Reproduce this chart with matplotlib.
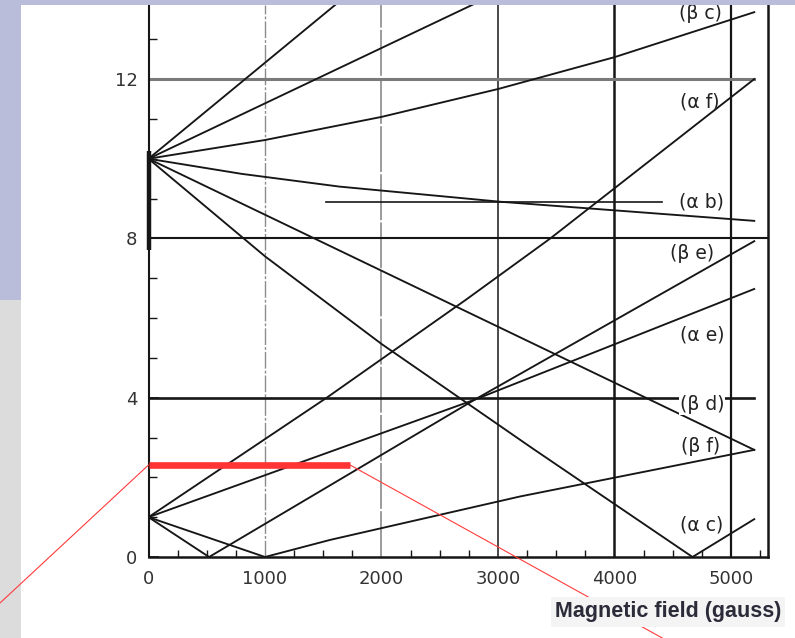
"""
Zeeman-type transition diagram (scanned figure) with slide background and red callout.
"""

import numpy as np
import matplotlib
matplotlib.use('Agg')
import matplotlib.pyplot as plt
from matplotlib.patches import Rectangle

# ---------------------------------------------------------------
# Data: field (gauss) vs. frequency (arb. units)
# ---------------------------------------------------------------
steep1_field = [0, 2000]
steep1_freq = [10, 14.82]

steep2_field = [0, 3000]
steep2_freq = [10, 14.17]

beta_c_field = [0, 1000, 2000, 3000, 4000, 5200]
beta_c_freq = [10, 10.47, 11.05, 11.75, 12.55, 13.68]

alpha_b_field = [0, 800, 1640, 3020, 5200]
alpha_b_freq = [10, 9.62, 9.30, 8.92, 8.44]

alpha_b_level_field = [1520, 4410]
alpha_b_level_freq = [8.92, 8.92]

beta_f_upper_field = [0, 5200]
beta_f_upper_freq = [10, 2.69]

alpha_c_field = [0, 1000, 2000, 3300, 4670, 5200]
alpha_c_freq = [10, 7.55, 5.35, 2.72, 0, 0.95]

alpha_f_field = [0, 1530, 2730, 3450, 5200]
alpha_f_freq = [1, 4.0, 6.47, 8.0, 12.0]

alpha_e_field = [0, 2800, 5200]
alpha_e_freq = [1, 3.95, 6.73]

beta_e_field = [0, 520, 2800, 5200]
beta_e_freq = [1, 0, 3.95, 7.93]

beta_f_field = [0, 1000, 1560, 3190, 5200]
beta_f_freq = [1, 0, 0.43, 1.52, 2.69]

# constant levels
level12_field = [0, 5200]
level12_freq = [12, 12]
level8_field = [0, 5318]
level8_freq = [8, 8]
beta_d_field = [0, 5200]
beta_d_freq = [4, 4]

grid_field = [1000, 2000, 3000, 4000, 5000]
xtick_vals = [0, 1000, 2000, 3000, 4000, 5000]
ytick_vals = [0, 4, 8, 12]

label_names = ['(β c)', '(α f)', '(α b)', '(β e)', '(α e)', '(β d)', '(β f)', '(α c)']

# red highlight (level and field span)
highlight_freq = 2.31
highlight_field = [0, 1730]

# scan artefact: thick piece of the y axis
axis_mark_freq = [7.7, 10.2]

# ---------------------------------------------------------------
W, H = 795, 638
fig = plt.figure(figsize=(W / 100, H / 100), dpi=100)
fig.patch.set_facecolor('white')

# slide background pieces
fig.add_artist(Rectangle((0, 1 - 300 / H), 21 / W, 300 / H, transform=fig.transFigure,
                         facecolor='#b9bdda', edgecolor='none', zorder=0))
fig.add_artist(Rectangle((0, 1 - 5 / H), 1, 5 / H, transform=fig.transFigure,
                         facecolor='#b9bdda', edgecolor='none', zorder=10))
fig.add_artist(Rectangle((0, 0), 21 / W, 1 - 300 / H, transform=fig.transFigure,
                         facecolor='#dcdcdc', edgecolor='none', zorder=0))

ax = fig.add_axes([148.5 / W, 81 / H, 619.5 / W, 552 / H])
ax.set_facecolor('none')
ax.set_xlim(0, 5318)
ax.set_ylim(0, 13.86)

ink = '#161616'

# vertical grid lines (scan has broken/light ones at 1000 and 2000)
g_colors = ['#8c8c8c', '#808080', '#2a2a2a', '#151515', '#151515']
g_widths = [1.0, 1.1, 1.2, 1.8, 1.6]
g_styles = [(0, (12, 1.5, 2, 1.5)), (0, (30, 1.5)), '-', '-', '-']
for xv, c, w, s in zip(grid_field, g_colors, g_widths, g_styles):
    ax.axvline(xv, color=c, lw=w, linestyle=s, zorder=1)

# constant levels
ax.plot(level12_field, level12_freq, color='#7a7a7a', lw=2.2, zorder=2, clip_on=False)
ax.plot(level8_field, level8_freq, color=ink, lw=1.5, zorder=2, clip_on=False)
ax.plot(beta_d_field, beta_d_freq, color=ink, lw=1.9, zorder=2)
ax.plot(alpha_b_level_field, alpha_b_level_freq, color=ink, lw=1.2, zorder=2)

# transition lines
curves = [
    (steep1_field, steep1_freq),
    (steep2_field, steep2_freq),
    (beta_c_field, beta_c_freq),
    (alpha_b_field, alpha_b_freq),
    (beta_f_upper_field, beta_f_upper_freq),
    (alpha_c_field, alpha_c_freq),
    (alpha_f_field, alpha_f_freq),
    (alpha_e_field, alpha_e_freq),
    (beta_e_field, beta_e_freq),
    (beta_f_field, beta_f_freq),
]
for fx, fy in curves:
    ax.plot(fx, fy, color=ink, lw=1.35, zorder=3, solid_joinstyle='miter')

# thick piece of the left axis
ax.plot([0, 0], axis_mark_freq, color=ink, lw=3.2, zorder=4, clip_on=False,
        solid_capstyle='butt')

# transition labels
label_x = [4735, 4735, 4750, 4665, 4750, 4750, 4735, 4750]
label_y = [13.65, 11.43, 8.92, 7.62, 5.57, 3.82, 2.77, 0.80]
for name, lx, ly in zip(label_names, label_x, label_y):
    bb = dict(facecolor='white', edgecolor='none', pad=0.5) if name == '(β d)' else None
    ax.text(lx, ly, name, fontsize=13.5, color='#222222', ha='center', va='center',
            zorder=5, bbox=bb)

# axes frame
ax.spines['top'].set_visible(False)
for side, w in [('left', 1.5), ('bottom', 1.8), ('right', 1.8)]:
    ax.spines[side].set_linewidth(w)
    ax.spines[side].set_color(ink)

ax.set_xticks(xtick_vals)
ax.set_xticklabels([str(v) for v in xtick_vals])
ax.set_xticks([v for v in np.arange(250, 5300, 250) if v % 1000 != 0], minor=True)
ax.set_yticks(ytick_vals)
ax.set_yticklabels([str(v) for v in ytick_vals])
ax.set_yticks([v for v in range(1, 14) if v % 4 != 0], minor=True)

ax.tick_params(axis='x', which='major', length=0, pad=9, labelsize=13, labelcolor='#333333')
ax.tick_params(axis='x', which='minor', direction='in', length=5, width=1, color=ink)
ax.tick_params(axis='y', which='major', direction='in', length=7, width=1.2, color=ink,
               pad=8, labelsize=13, labelcolor='#333333')
ax.tick_params(axis='y', which='minor', direction='in', length=6, width=1, color=ink)

# axis title as on the slide
fig.text(668 / W, 1 - 612 / H, 'Magnetic field (gauss)', fontsize=15.5, fontweight='bold',
         family='Liberation Sans', color='#2b2b3a', ha='center', va='center',
         bbox=dict(facecolor='#f4f4f4', edgecolor='none', pad=3))

# red highlight bar and callout lines
ax.plot(highlight_field, [highlight_freq, highlight_freq], color='#ff3535', lw=4.8,
        solid_capstyle='butt', zorder=6, clip_on=False)
ax.annotate('', xy=(highlight_field[0], highlight_freq), xycoords='data',
            xytext=(0.0, 1 - 603 / H), textcoords='figure fraction',
            arrowprops=dict(arrowstyle='-', color='#ff3b3b', lw=0.8, shrinkA=0, shrinkB=0),
            annotation_clip=False)
ax.annotate('', xy=(highlight_field[1], highlight_freq), xycoords='data',
            xytext=(668 / W, -0.005), textcoords='figure fraction',
            arrowprops=dict(arrowstyle='-', color='#ff3b3b', lw=0.8, shrinkA=0, shrinkB=0),
            annotation_clip=False)

fig.savefig('out.png', dpi=100)
plt.close()
